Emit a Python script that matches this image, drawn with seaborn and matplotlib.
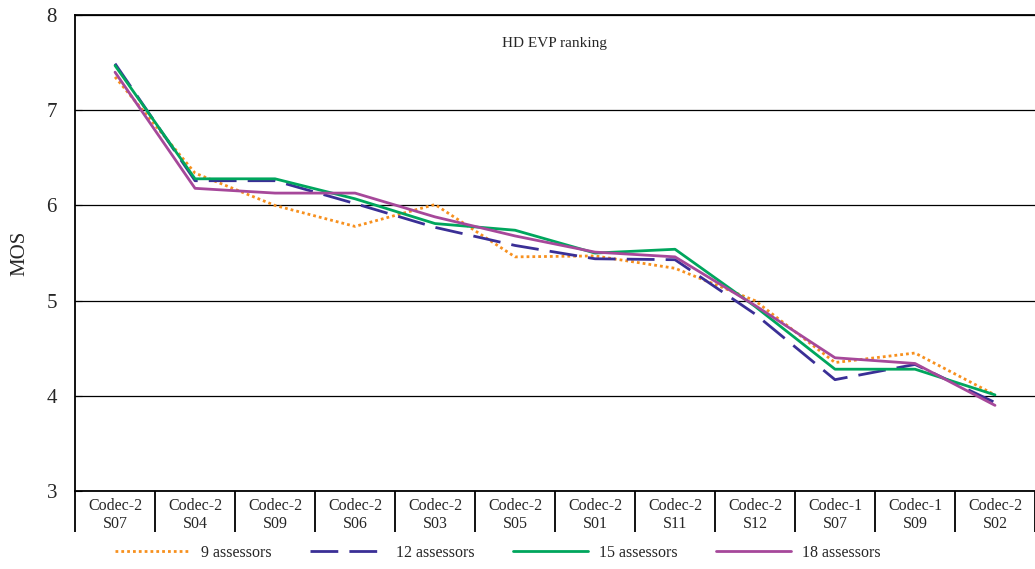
import matplotlib
matplotlib.use("Agg")
import matplotlib.pyplot as plt
import seaborn as sns
import pandas as pd

# categories along the x axis (ranked)
codecs = ["Codec-2", "Codec-2", "Codec-2", "Codec-2", "Codec-2", "Codec-2",
          "Codec-2", "Codec-2", "Codec-2", "Codec-1", "Codec-1", "Codec-2"]
samples = ["S07", "S04", "S09", "S06", "S03", "S05",
           "S01", "S11", "S12", "S07", "S09", "S02"]

# MOS per panel size
mos_9 = [7.35, 6.34, 6.00, 5.78, 6.01, 5.46, 5.47, 5.34, 5.00, 4.35, 4.45, 4.01]
mos_12 = [7.49, 6.26, 6.26, 6.02, 5.77, 5.58, 5.44, 5.43, 4.86, 4.17, 4.33, 3.93]
mos_15 = [7.47, 6.28, 6.28, 6.07, 5.81, 5.74, 5.50, 5.54, 4.94, 4.28, 4.28, 4.01]
mos_18 = [7.40, 6.18, 6.13, 6.13, 5.88, 5.68, 5.51, 5.46, 4.95, 4.40, 4.34, 3.90]

series = ["9 assessors", "12 assessors", "15 assessors", "18 assessors"]
colors = ["#F7901E", "#3A2F96", "#00A65D", "#A6489A"]

sns.set_style("white")
plt.rcParams["font.family"] = ["Liberation Serif", "DejaVu Serif"]

labels = [f"{c}\n{s}" for c, s in zip(codecs, samples)]
df = pd.DataFrame({"pos": list(range(len(labels))) * 4,
                   "mos": mos_9 + mos_12 + mos_15 + mos_18,
                   "panel": [s for s in series for _ in labels]})

fig = plt.figure(figsize=(10.35, 5.69), dpi=100)
ax = fig.add_axes([0.0725, 0.137, 0.9275, 0.8365])

dashes = {"9 assessors": (1, 1.1), "12 assessors": (10, 4),
          "15 assessors": "", "18 assessors": ""}
sns.lineplot(data=df, x="pos", y="mos", hue="panel", style="panel",
             palette=dict(zip(series, colors)), dashes=dashes,
             linewidth=2, ax=ax, legend=False)

ax.set_xlim(-0.5, len(labels) - 0.5)
ax.set_ylim(3, 8)
ax.set_yticks(range(3, 9))
ax.yaxis.grid(True, color="black", linewidth=0.9)
ax.set_axisbelow(True)
ax.set_xticks(range(len(labels)))
ax.set_xticklabels(labels, fontsize=11.5, linespacing=1.2)
ax.tick_params(axis="x", length=0, pad=5)
ax.tick_params(axis="y", length=5, width=0.8, direction="in", left=True,
               labelsize=15, pad=13, color="black")
ax.set_xlabel("")
ax.set_ylabel("MOS", fontsize=15, labelpad=12)

for side in ["left", "top", "bottom"]:
    ax.spines[side].set_color("black")
    ax.spines[side].set_linewidth(1.3)
ax.spines["right"].set_visible(False)

# category separators below the axis
ax.vlines([i - 0.5 for i in range(len(labels) + 1)], -0.085, 0,
          transform=ax.get_xaxis_transform(), color="black",
          linewidth=1.3, clip_on=False)

ax.text(0.445, 0.94, "HD EVP ranking", transform=ax.transAxes,
        ha="left", va="center", fontsize=11)

handles = [plt.Line2D([], [], color=c, linewidth=2,
                      dashes=dashes[s] if dashes[s] else (None, None))
           for s, c in zip(series, colors)]
fig.legend(handles, series, loc="center", bbox_to_anchor=(0.481, 0.028),
           ncol=4, frameon=False, fontsize=11.5, handlelength=4.7,
           handletextpad=0.7, columnspacing=2.4)

fig.savefig("out.png", dpi=100)
